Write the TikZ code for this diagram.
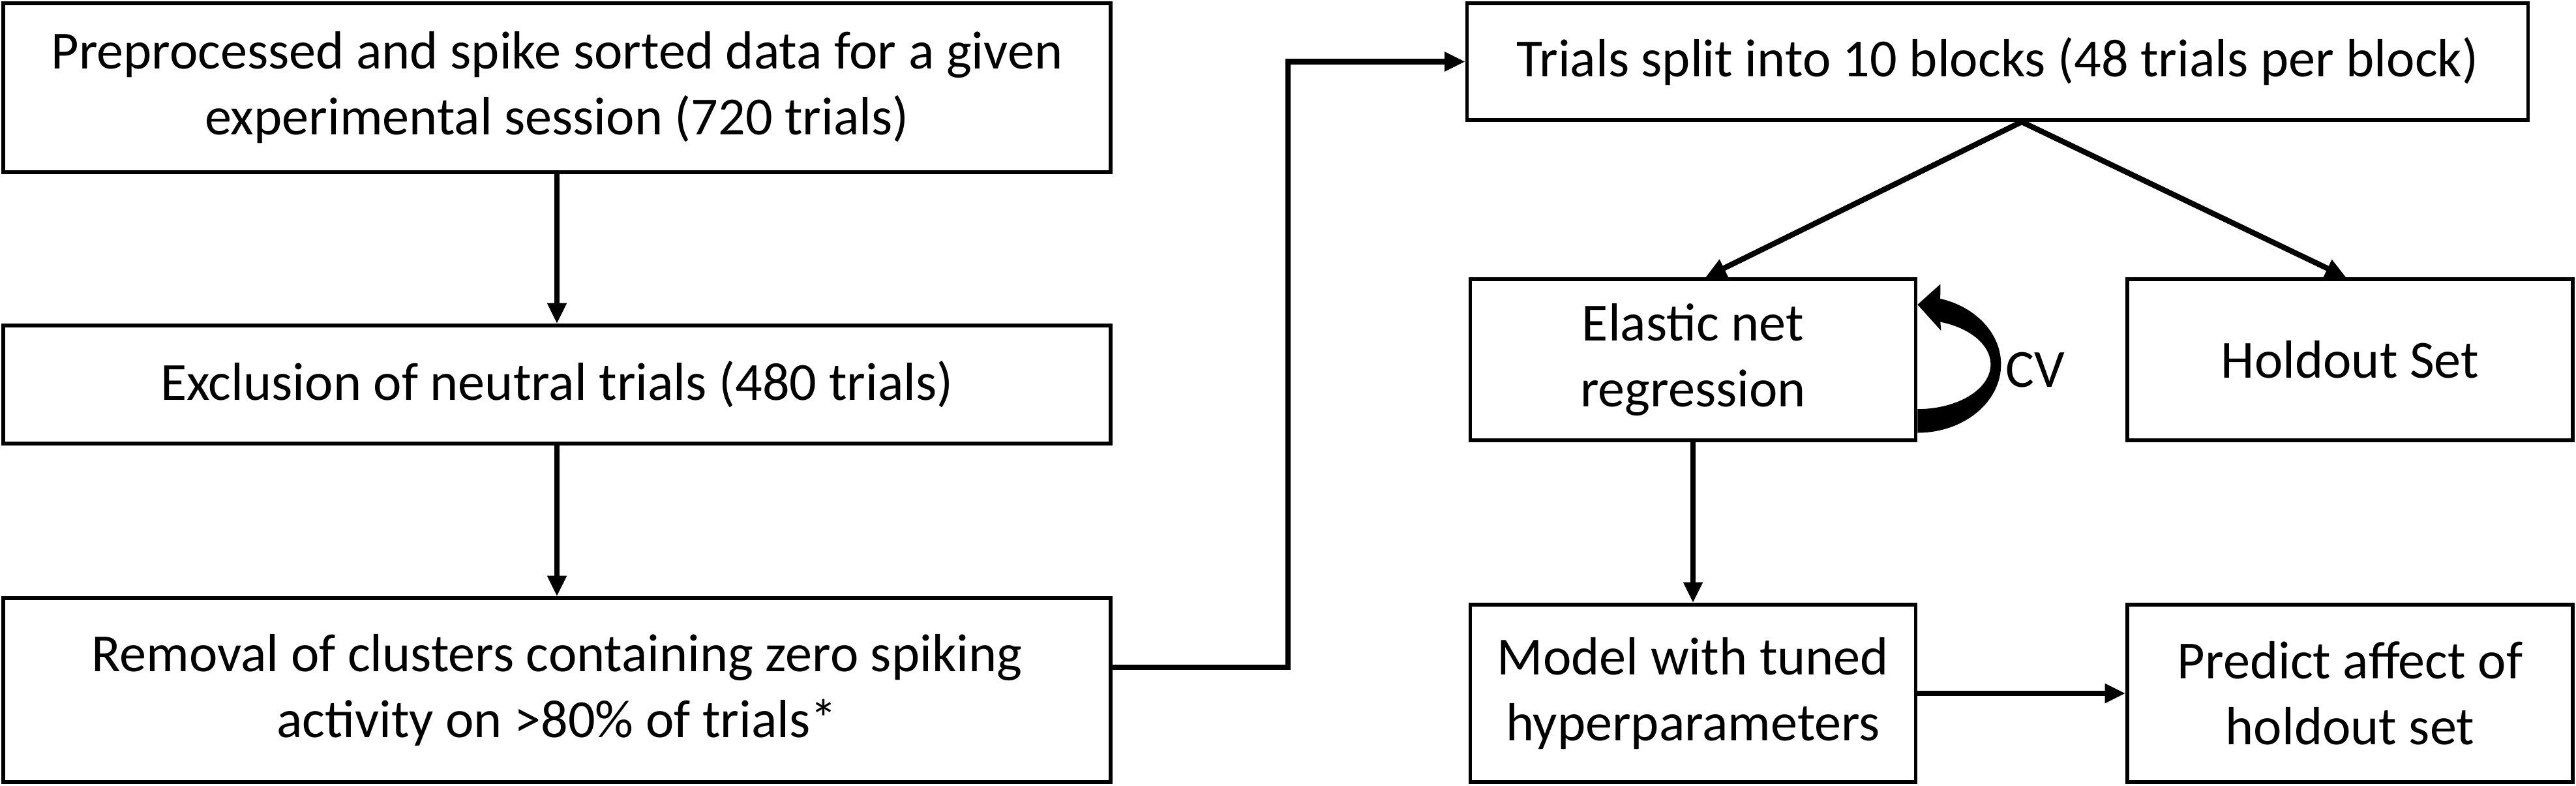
\documentclass[tikz,border=0pt]{standalone}
\usepackage{fontspec}
\setmainfont{Carlito}
\usetikzlibrary{arrows.meta}
\tikzstyle{box} = [draw, line width=1.6pt, align=center, inner sep=0pt, font=\fontsize{23.4}{28.7}\selectfont]
\tikzstyle{arrow} = [line width=2.4pt,-{Triangle[length=9pt,width=8pt]}]

\begin{document}
\begin{tikzpicture}
        \useasboundingbox (0,0) rectangle (39.5,-12.04);
        \node[box, minimum width=16.98cm, minimum height=2.59cm] (prep) at (8.54,-1.345) {Preprocessed and spike sorted data for a given\\experimental session (720 trials)};
        \node[box, minimum width=16.98cm, minimum height=1.81cm] (excl) at (8.54,-5.895) {Exclusion of neutral trials (480 trials)};
        \node[box, minimum width=16.98cm, minimum height=2.82cm] (remov) at (8.54,-10.58) {Removal of clusters containing zero spiking\\activity on >80\% of trials*};
        \node[box, minimum width=16.27cm, minimum height=1.79cm] (trials) at (30.63,-0.945) {Trials split into 10 blocks (48 trials per block)};
        \node[box, minimum width=6.83cm, minimum height=2.47cm] (elastic) at (25.96,-5.515) {Elastic net\\regression};
        \node[box, minimum width=6.83cm, minimum height=2.47cm] (holdout) at (36.035,-5.515) {Holdout Set};
        \node[box, minimum width=6.83cm, minimum height=2.72cm] (model) at (25.96,-10.63) {Model with tuned\\hyperparameters};
        \node[box, minimum width=6.83cm, minimum height=2.72cm] (predict) at (36.035,-10.63) {Predict affect of\\holdout set};
        \draw[arrow] (prep) -- (excl);
        \draw[arrow] (excl) -- (remov);
        \draw[arrow] ([yshift=0.35cm]remov.east) -- ++(2.69,0) |- (trials.west);
        \draw[arrow] ([xshift=0.37cm]trials.south) -- ([xshift=0.19cm]elastic.north);
        \draw[arrow] ([xshift=0.37cm]trials.south) -- ([xshift=-0.06cm]holdout.north);
        \draw[arrow] (elastic) -- (model);
        \draw[arrow] (model) -- (predict);
        \fill ([yshift=-1.12cm]elastic.east) arc[start angle=-90, end angle=74.2, x radius=1.28cm, y radius=1.048cm] -- ([shift={(0.35,1.16)}]elastic.east) -- ([yshift=0.845cm]elastic.east) -- ([shift={(0.36,0.445)}]elastic.east) -- ([shift={(0.35,0.579)}]elastic.east) arc[start angle=71.8, end angle=-90, x radius=1.12cm, y radius=0.685cm] -- cycle;
        \node[font=\fontsize{23.4}{28.7}\selectfont] (cv) at ([shift={(1.805,-0.155)}]elastic.east) {CV};
        \end{tikzpicture}
\end{document}
